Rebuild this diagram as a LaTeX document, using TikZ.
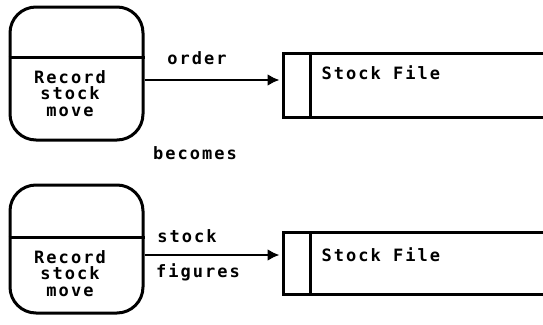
\documentclass[tikz,border=0pt]{standalone}
\usepackage{fontspec}
\newfontfamily\dfdfont[LetterSpace=12]{DejaVu Sans Mono}
\usetikzlibrary{arrows.meta, calc}
\tikzset{
  every picture/.style={line width=3pt},
  proc/.style={draw, rounded corners=26pt, minimum width=133pt, inner sep=0pt},
  store/.style={minimum width=258pt, inner sep=0pt},
  ptext/.style={font=\dfdfont\bfseries\fontsize{17}{16.5}\selectfont, align=center, inner sep=0pt},
  lbl/.style={font=\dfdfont\bfseries\fontsize{17}{16.5}\selectfont, inner sep=0pt},
  flow/.style={-{Latex[length=12pt, width=12pt]}, line width=2.6pt, shorten >=4pt},
}
\begin{document}
\begin{tikzpicture}[x=1pt, y=-1pt]
  \useasboundingbox (0,0) rectangle (543,324);
  % before
  \node[proc, minimum height=133pt] (rec1) at (76.5,73.5) {};
  \draw ($(rec1.north west)!0.38!(rec1.south west)$) -- ($(rec1.north east)!0.38!(rec1.south east)$);
  \node[ptext] (rec1txt) at (70,93.5) {Record\\stock\\move};
  \node[store, minimum height=61pt] (sf1) at (414,85.5) {};
  \draw (sf1.north east) -- (sf1.north west) -- (sf1.south west) -- (sf1.south east);
  \draw ($(sf1.north west)+(27,0)$) -- ($(sf1.south west)+(27,0)$);
  \node[lbl, anchor=west] (sf1txt) at (320,73) {Stock File};
  \draw[flow] ($(rec1.east)+(0,6.5)$) coordinate (o1) -- (o1 -| sf1.west);
  \node[lbl] (order) at (197,58) {order};
  \node[lbl] (becomes) at (195,153) {becomes};
  % after
  \node[proc, minimum height=128pt] (rec2) at (76.5,249) {};
  \draw ($(rec2.north west)!0.41!(rec2.south west)$) -- ($(rec2.north east)!0.41!(rec2.south east)$);
  \node[ptext] (rec2txt) at (70,273.5) {Record\\stock\\move};
  \node[store, minimum height=59pt] (sf2) at (414,263.5) {};
  \draw (sf2.north east) -- (sf2.north west) -- (sf2.south west) -- (sf2.south east);
  \draw ($(sf2.north west)+(27,0)$) -- ($(sf2.south west)+(27,0)$);
  \node[lbl, anchor=west] (sf2txt) at (320,255) {Stock File};
  \draw[flow] ($(rec2.east)+(0,6)$) coordinate (o2) -- (o2 -| sf2.west);
  \node[lbl] (stock) at (187,236) {stock};
  \node[lbl] (figures) at (198,272) {figures};
\end{tikzpicture}
\end{document}
